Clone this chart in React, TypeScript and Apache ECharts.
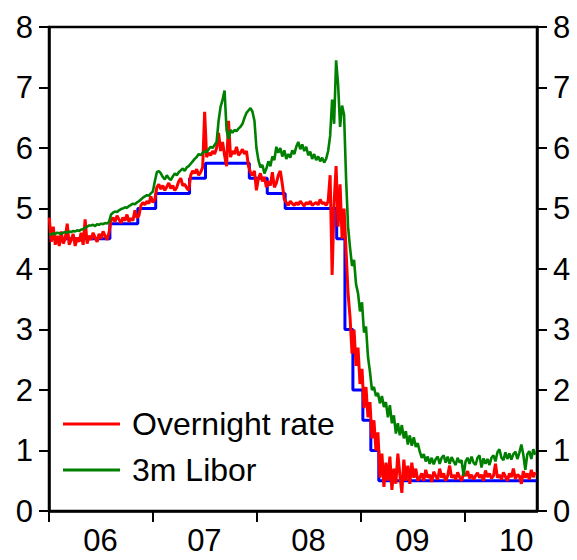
import React, { useEffect, useRef } from "react";
import * as echarts from "echarts";

// Weekly observations starting from the first Monday of 2006
const WEEK_START = "2006-01-02";

// Overnight rate (%), one value per week
const overnightRate = [
  4.85, 4.45, 4.7, 4.4, 4.55, 4.38, 4.62, 4.42, 4.5, 4.75, 4.4, 4.48, 4.58, 4.38, 4.52, 4.45, 4.6, 4.4, 4.82, 4.42, 4.55,
  4.48, 4.6, 4.52, 4.45, 4.58, 4.5, 4.62, 4.55, 4.48, 4.6,
  4.8, 4.85, 4.78, 4.88, 4.82, 4.76, 4.85, 4.8, 4.9, 4.78, 4.84, 4.8, 4.97, 4.85, 4.88,
  5.05, 5.1, 5.06, 5.12, 5.08, 5.2, 5.1,
  5.15, 5.35, 5.4, 5.32, 5.38, 5.3, 5.36, 5.42, 5.33, 5.38, 5.3, 5.35, 5.45, 5.5, 5.38, 5.4, 5.34, 5.3,
  5.55, 5.62, 5.58, 5.65, 5.55, 5.6, 5.68, 6.6,
  5.85, 5.92, 5.88, 5.95, 5.9, 6.0, 6.25, 5.95, 6.1, 5.88, 5.7, 6.45, 5.85, 5.95, 5.9, 6.02, 5.88, 5.92, 5.98, 5.9, 5.95,
  5.7, 5.6, 5.55, 5.62, 5.3, 5.5, 5.58, 5.45, 5.52,
  5.35, 5.45, 5.38, 5.6, 5.35, 5.42, 5.55, 5.62, 5.4,
  5.15, 5.1, 5.05, 5.12, 5.08, 5.05, 5.1, 5.06, 5.12, 5.08, 5.04, 5.1, 5.07, 5.12, 5.05, 5.08, 5.1, 5.06, 5.15, 5.08, 5.1, 5.05, 5.12,
  5.55, 3.9, 5.1, 5.7, 4.7, 5.4, 4.5, 5.0, 4.3, 3.6,
  3.2, 2.6, 3.0, 2.4, 2.7, 2.1, 2.35, 1.7, 2.05, 1.55, 1.8, 1.2, 1.5, 1.0, 1.3,
  0.55, 0.95, 0.4, 0.8, 0.5, 0.9, 0.35, 0.7, 0.45, 0.95, 0.6, 0.3, 0.85, 0.5, 0.75, 0.45, 0.8, 0.55, 0.7, 0.5,
  0.55, 0.62, 0.5, 0.68, 0.55, 0.6, 0.48, 0.65, 0.58, 0.52,
  0.7, 0.55, 0.62, 0.5, 0.58, 0.75, 0.55, 0.6, 0.52, 0.64,
  0.56, 0.5, 0.62, 0.58, 0.66, 0.54, 0.6, 0.52, 0.58, 0.63,
  0.55, 0.6, 0.5, 0.67, 0.56, 0.62, 0.54, 0.58, 0.78, 0.55,
  0.6, 0.52, 0.64, 0.57, 0.5, 0.62, 0.56, 0.7, 0.53, 0.6,
  0.58, 0.45, 0.66, 0.55, 0.62, 0.52, 0.68, 0.56, 0.64,
];

// 3-month Libor (%), one value per week
const libor3m = [
  4.58, 4.57, 4.59, 4.58, 4.6, 4.59, 4.58, 4.6, 4.61, 4.6, 4.62, 4.61, 4.63, 4.62, 4.64, 4.63, 4.65, 4.66, 4.68, 4.7, 4.72,
  4.72, 4.73, 4.71, 4.74, 4.73, 4.75, 4.74, 4.76, 4.75, 4.78,
  4.9, 4.93, 4.95, 4.94, 4.97, 4.99, 5.0, 5.02, 5.01, 5.04, 5.06, 5.08, 5.07, 5.1, 5.12,
  5.15, 5.18, 5.2, 5.22, 5.21, 5.25, 5.28,
  5.45, 5.6, 5.62, 5.58,
  5.52, 5.48, 5.55, 5.5, 5.47, 5.53, 5.58, 5.55, 5.6,
  5.63, 5.66, 5.62, 5.68, 5.7, 5.74, 5.78,
  5.82, 5.85, 5.9, 5.88, 5.92, 5.95,
  5.93, 5.98, 6.02, 6.0, 6.05, 6.1,
  6.45, 6.68, 6.8, 6.95, 6.3, 6.15, 6.3, 6.25, 6.3, 6.28,
  6.32, 6.35, 6.4, 6.5, 6.58, 6.62, 6.66, 6.6, 6.45, 6.0,
  5.8, 5.68, 5.72, 5.58, 5.66, 5.78, 5.7, 5.86, 5.8, 6.02,
  5.92, 6.0, 5.86, 5.96, 5.82, 5.9, 5.84, 5.96, 5.9, 6.02,
  6.1, 5.98, 6.06, 5.95, 6.02, 5.88, 5.94, 5.82, 5.9, 5.8,
  5.86, 5.78, 5.84, 5.76, 5.82, 5.95,
  6.2, 6.8, 6.4, 7.45, 7.05, 6.35, 6.7, 6.55, 5.5, 4.7,
  4.35, 4.05, 4.15, 3.75, 3.6, 3.3, 3.45, 2.95, 3.05, 2.55,
  2.3, 2.0, 2.05, 1.9, 1.95, 1.78, 1.9, 1.72, 1.8, 1.55,
  1.75, 1.45, 1.58, 1.28, 1.45, 1.25, 1.42, 1.2, 1.32, 1.1,
  1.25, 1.08, 1.22, 1.06, 1.12,
  0.98, 0.88, 0.94, 0.82, 0.9, 0.78, 0.88, 0.77, 0.86, 0.9,
  0.78, 0.88, 0.92, 0.8, 0.9, 0.78, 0.89, 0.82, 0.76, 0.88,
  0.8, 0.84, 0.58, 0.82, 0.88, 0.78, 0.9, 0.8, 0.76, 0.88,
  0.92, 0.72, 0.87, 0.78, 0.86, 0.76, 0.88, 0.92, 0.82, 0.97,
  1.02, 0.88, 0.84, 0.97, 0.86, 0.95, 0.85, 0.94, 0.98, 0.86,
  0.96, 1.1, 0.93, 0.68, 0.94, 0.99, 0.86, 1.02, 0.93,
];

// Policy rate decisions: [effective date, rate %]
const bankRateChanges: [string, number][] = [
  ["2006-01-01", 4.5],
  ["2006-08-03", 4.75],
  ["2006-11-09", 5.0],
  ["2007-01-11", 5.25],
  ["2007-05-10", 5.5],
  ["2007-07-05", 5.75],
  ["2007-12-06", 5.5],
  ["2008-02-07", 5.25],
  ["2008-04-10", 5.0],
  ["2008-10-08", 4.5],
  ["2008-11-06", 3.0],
  ["2008-12-04", 2.0],
  ["2009-01-08", 1.5],
  ["2009-02-05", 1.0],
  ["2009-03-05", 0.5],
  ["2010-09-10", 0.5],
];

const AXIS_START = "2006-01-01";
const AXIS_END = "2010-09-12";
const yearTicks = ["2006-01-01", "2007-01-01", "2008-01-01", "2009-01-01", "2010-01-01"];
const yearLabelPositions = ["2006-07-01", "2007-07-01", "2008-07-01", "2009-07-01", "2010-07-01"];

const FONT = '"Liberation Sans", Arial, Helvetica, sans-serif';
const DAY_MS = 86400000;

const ms = (s: string) => new Date(s + "T00:00:00Z").getTime();

export default function App() {
  const ref = useRef<HTMLDivElement>(null);

  useEffect(() => {
    if (!ref.current) return;
    const chart = echarts.init(ref.current, undefined, { renderer: "svg" });
    const start = ms(WEEK_START);
    const weekly = (vals: number[]) => vals.map((v, i) => [start + i * 7 * DAY_MS, v]);

    const axisText = { fontSize: 31, fontFamily: FONT, color: "#000" };
    const yAxisCommon = {
      type: "value" as const,
      min: 0,
      max: 8,
      interval: 1,
      axisLine: { show: true, lineStyle: { color: "#000", width: 2.5 } },
      axisTick: { show: true, inside: false, length: 10, lineStyle: { color: "#000", width: 2 } },
      axisLabel: { ...axisText, margin: 16 },
      splitLine: { show: false },
    };

    chart.setOption({
      animation: false,
      backgroundColor: "#fff",
      grid: {
        left: 49,
        right: 40,
        top: 27,
        bottom: 49,
        show: true,
        borderColor: "#000",
        borderWidth: 2.5,
        backgroundColor: "transparent",
      },
      legend: {
        orient: "vertical",
        left: 63,
        top: 407,
        padding: 0,
        itemWidth: 57,
        itemHeight: 3,
        itemGap: 12,
        icon: "rect",
        data: ["Overnight rate", "3m Libor"],
        textStyle: { ...axisText, fontSize: 32, lineHeight: 34, padding: [0, 0, 0, 7] },
      },
      // Dates are plotted as millisecond timestamps on a numeric axis so that
      // year ticks and mid-year labels can be placed independently.
      xAxis: {
        type: "value",
        min: ms(AXIS_START),
        max: ms(AXIS_END),
        axisLine: { show: true, onZero: false, lineStyle: { color: "#000", width: 2.5 } },
        axisTick: {
          show: true,
          length: 11,
          customValues: yearTicks.map(ms),
          lineStyle: { color: "#000", width: 2 },
        },
        axisLabel: {
          ...axisText,
          margin: 14,
          customValues: yearLabelPositions.map(ms),
          formatter: (v: number) => String(new Date(v).getUTCFullYear()).slice(2),
        },
        splitLine: { show: false },
      },
      yAxis: [
        { ...yAxisCommon, position: "left" },
        { ...yAxisCommon, position: "right" },
      ],
      series: [
        {
          name: "Bank rate",
          type: "line",
          step: "end",
          showSymbol: false,
          data: bankRateChanges.map(([d, v]) => [ms(d), v]),
          lineStyle: { color: "#0000ff", width: 3 },
          itemStyle: { color: "#0000ff" },
        },
        {
          name: "Overnight rate",
          type: "line",
          showSymbol: false,
          data: weekly(overnightRate),
          lineStyle: { color: "#ff0000", width: 3 },
          itemStyle: { color: "#ff0000" },
        },
        {
          name: "3m Libor",
          type: "line",
          showSymbol: false,
          data: weekly(libor3m),
          lineStyle: { color: "#008000", width: 2.6 },
          itemStyle: { color: "#008000" },
        },
      ],
    });

    return () => chart.dispose();
  }, []);

  return (
    <div
      ref={ref}
      style={{ position: "fixed", left: 0, top: 0, width: 577, height: 560, background: "#fff" }}
    />
  );
}
